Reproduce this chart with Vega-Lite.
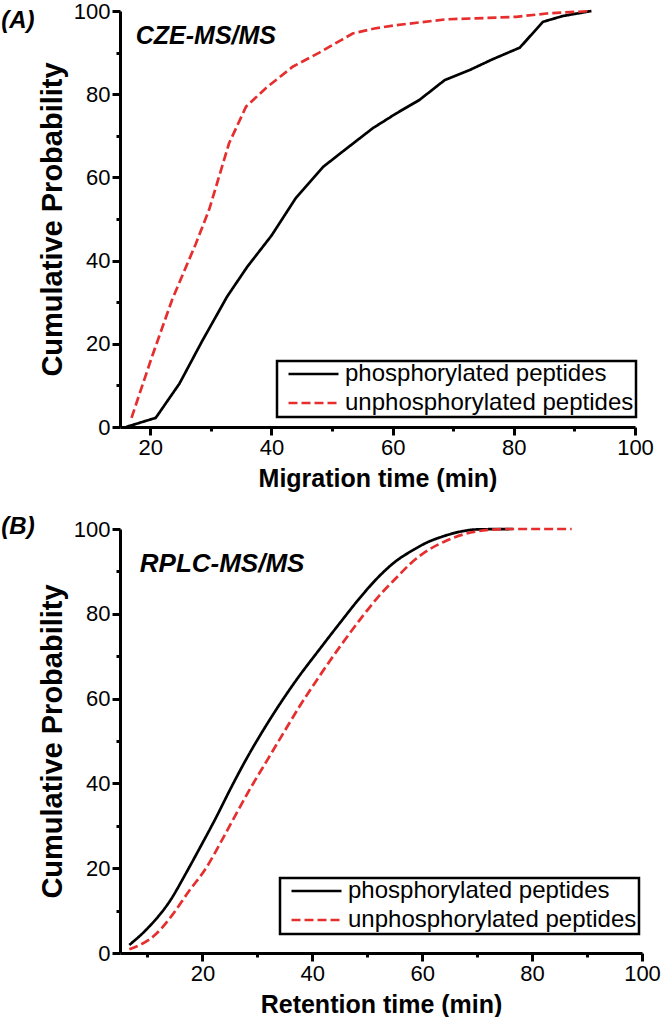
{
  "$schema": "https://vega.github.io/schema/vega-lite/v6.json",
  "padding": {"left": 1, "top": 0, "right": 2, "bottom": 0},
  "background": "white",
  "spacing": 24,
  "config": {
    "view": {"stroke": null},
    "font": "Liberation Sans",
    "axis": {
      "grid": false,
      "domainColor": "black",
      "domainWidth": 3,
      "tickColor": "black",
      "tickWidth": 3,
      "tickSize": {"condition": {"test": "datum.value % 20 === 0", "value": 8}, "value": 4},
      "labelFont": "Liberation Sans",
      "labelFontSize": 22,
      "labelColor": "black",
      "labelPadding": 2,
      "labelOverlap": false,
      "labelFlush": false,
      "labelExpr": "datum.value % 20 === 0 ? datum.label : ''",
      "titleFont": "Liberation Sans",
      "titleFontWeight": "bold",
      "titleColor": "black"
    },
    "axisX": {"titleFontSize": 25, "titlePadding": 8},
    "axisY": {"titleFontSize": 29, "titlePadding": 6},
    "legend": {
      "orient": "none",
      "title": null,
      "symbolType": "stroke",
      "symbolSize": 2500,
      "symbolStrokeWidth": 2.7,
      "labelFont": "Liberation Sans",
      "labelFontSize": 24,
      "labelColor": "black",
      "labelLimit": 500,
      "strokeColor": "black",
      "strokeWidth": 2.5,
      "padding": 2,
      "clipHeight": 22,
      "rowPadding": 5,
      "symbolOffset": 8,
      "labelOffset": 5
    }
  },
  "datasets": {
    "A": [
      {"series": "phosphorylated peptides", "x": 16, "y": 0},
      {"series": "phosphorylated peptides", "x": 20.9, "y": 2.2},
      {"series": "phosphorylated peptides", "x": 24.8, "y": 10.4},
      {"series": "phosphorylated peptides", "x": 28.5, "y": 20.5},
      {"series": "phosphorylated peptides", "x": 32.7, "y": 31.4},
      {"series": "phosphorylated peptides", "x": 36, "y": 38.5},
      {"series": "phosphorylated peptides", "x": 40, "y": 46},
      {"series": "phosphorylated peptides", "x": 44, "y": 55},
      {"series": "phosphorylated peptides", "x": 48.5, "y": 62.5},
      {"series": "phosphorylated peptides", "x": 52, "y": 66.5},
      {"series": "phosphorylated peptides", "x": 56.7, "y": 71.8},
      {"series": "phosphorylated peptides", "x": 60.5, "y": 75.3},
      {"series": "phosphorylated peptides", "x": 64.4, "y": 78.6},
      {"series": "phosphorylated peptides", "x": 68.6, "y": 83.4},
      {"series": "phosphorylated peptides", "x": 72.7, "y": 85.8},
      {"series": "phosphorylated peptides", "x": 76.5, "y": 88.4},
      {"series": "phosphorylated peptides", "x": 81, "y": 91.2},
      {"series": "phosphorylated peptides", "x": 84.8, "y": 97.4},
      {"series": "phosphorylated peptides", "x": 88.1, "y": 98.8},
      {"series": "phosphorylated peptides", "x": 92.8, "y": 100},
      {"series": "unphosphorylated peptides", "x": 16.9, "y": 2.2},
      {"series": "unphosphorylated peptides", "x": 20.3, "y": 17},
      {"series": "unphosphorylated peptides", "x": 23.6, "y": 30.6},
      {"series": "unphosphorylated peptides", "x": 27.5, "y": 44},
      {"series": "unphosphorylated peptides", "x": 29.7, "y": 52.2},
      {"series": "unphosphorylated peptides", "x": 33, "y": 68.2},
      {"series": "unphosphorylated peptides", "x": 35.8, "y": 77},
      {"series": "unphosphorylated peptides", "x": 39.1, "y": 81.5},
      {"series": "unphosphorylated peptides", "x": 43.5, "y": 86.6},
      {"series": "unphosphorylated peptides", "x": 47.9, "y": 90},
      {"series": "unphosphorylated peptides", "x": 51.5, "y": 93},
      {"series": "unphosphorylated peptides", "x": 53.4, "y": 94.6},
      {"series": "unphosphorylated peptides", "x": 57, "y": 95.8},
      {"series": "unphosphorylated peptides", "x": 60.6, "y": 96.6},
      {"series": "unphosphorylated peptides", "x": 68.8, "y": 98},
      {"series": "unphosphorylated peptides", "x": 75, "y": 98.3},
      {"series": "unphosphorylated peptides", "x": 80.4, "y": 98.6},
      {"series": "unphosphorylated peptides", "x": 85.4, "y": 99.4},
      {"series": "unphosphorylated peptides", "x": 92.8, "y": 100}
    ],
    "B": [
      {"series": "phosphorylated peptides", "x": 6.7, "y": 1.9},
      {"series": "phosphorylated peptides", "x": 10, "y": 5.8},
      {"series": "phosphorylated peptides", "x": 14.3, "y": 12.7},
      {"series": "phosphorylated peptides", "x": 17, "y": 18.8},
      {"series": "phosphorylated peptides", "x": 19.7, "y": 25.2},
      {"series": "phosphorylated peptides", "x": 22.5, "y": 32},
      {"series": "phosphorylated peptides", "x": 24.9, "y": 38.2},
      {"series": "phosphorylated peptides", "x": 27.8, "y": 45.3},
      {"series": "phosphorylated peptides", "x": 32, "y": 54.5},
      {"series": "phosphorylated peptides", "x": 37.1, "y": 64.4},
      {"series": "phosphorylated peptides", "x": 41.3, "y": 71.6},
      {"series": "phosphorylated peptides", "x": 45, "y": 77.8},
      {"series": "phosphorylated peptides", "x": 49.2, "y": 84.6},
      {"series": "phosphorylated peptides", "x": 52.2, "y": 88.9},
      {"series": "phosphorylated peptides", "x": 55, "y": 92.2},
      {"series": "phosphorylated peptides", "x": 58.3, "y": 95},
      {"series": "phosphorylated peptides", "x": 61, "y": 96.9},
      {"series": "phosphorylated peptides", "x": 63.2, "y": 98},
      {"series": "phosphorylated peptides", "x": 67.4, "y": 99.5},
      {"series": "phosphorylated peptides", "x": 70, "y": 99.9},
      {"series": "phosphorylated peptides", "x": 76.5, "y": 100},
      {"series": "unphosphorylated peptides", "x": 6.7, "y": 0.9},
      {"series": "unphosphorylated peptides", "x": 11.5, "y": 4.4},
      {"series": "unphosphorylated peptides", "x": 14.6, "y": 9.1},
      {"series": "unphosphorylated peptides", "x": 17.5, "y": 14.5},
      {"series": "unphosphorylated peptides", "x": 20.7, "y": 20.1},
      {"series": "unphosphorylated peptides", "x": 23.5, "y": 26.5},
      {"series": "unphosphorylated peptides", "x": 26.1, "y": 32.7},
      {"series": "unphosphorylated peptides", "x": 28.8, "y": 39},
      {"series": "unphosphorylated peptides", "x": 31.8, "y": 45.5},
      {"series": "unphosphorylated peptides", "x": 34.8, "y": 52},
      {"series": "unphosphorylated peptides", "x": 37.6, "y": 58},
      {"series": "unphosphorylated peptides", "x": 41.3, "y": 65.3},
      {"series": "unphosphorylated peptides", "x": 45, "y": 72.2},
      {"series": "unphosphorylated peptides", "x": 49.2, "y": 79.5},
      {"series": "unphosphorylated peptides", "x": 52, "y": 84},
      {"series": "unphosphorylated peptides", "x": 55.3, "y": 88.5},
      {"series": "unphosphorylated peptides", "x": 58, "y": 92},
      {"series": "unphosphorylated peptides", "x": 61.3, "y": 95.2},
      {"series": "unphosphorylated peptides", "x": 64, "y": 97},
      {"series": "unphosphorylated peptides", "x": 67.4, "y": 98.7},
      {"series": "unphosphorylated peptides", "x": 72.2, "y": 99.8},
      {"series": "unphosphorylated peptides", "x": 76, "y": 100},
      {"series": "unphosphorylated peptides", "x": 87.2, "y": 100}
    ]
  },
  "resolve": {"legend": {"color": "independent", "strokeDash": "independent"}},
  "vconcat": [
    {
      "width": 515,
      "height": 416,
      "layer": [
        {
          "data": {"name": "A"},
          "mark": {"type": "line", "strokeWidth": 2.7},
          "encoding": {
            "x": {"field": "x", "type": "quantitative", "scale": {"domain": [15, 100], "nice": false, "zero": false}, "axis": {"values": [20, 30, 40, 50, 60, 70, 80, 90, 100], "title": "Migration time (min)"}},
            "y": {"field": "y", "type": "quantitative", "scale": {"domain": [0, 100], "nice": false}, "axis": {"values": [0, 10, 20, 30, 40, 50, 60, 70, 80, 90, 100], "title": "Cumulative Probability"}},
            "color": {"field": "series", "type": "nominal", "scale": {"domain": ["phosphorylated peptides", "unphosphorylated peptides"], "range": ["#000000", "#e62e2e"]}, "legend": {"legendX": 157, "legendY": 350}},
            "strokeDash": {"field": "series", "type": "nominal", "scale": {"domain": ["phosphorylated peptides", "unphosphorylated peptides"], "range": [[1, 0], [9, 4]]}, "legend": {"legendX": 157, "legendY": 350}}
          }
        },
        {
          "data": {"values": [{"label": "CZE-MS/MS"}]},
          "mark": {"type": "text", "align": "left", "baseline": "alphabetic", "fontSize": 25, "fontWeight": "bold", "fontStyle": "italic", "font": "Liberation Sans", "color": "black"},
          "encoding": {"x": {"datum": 17.6}, "y": {"datum": 92}, "text": {"field": "label"}}
        },
        {
          "data": {"values": [{"label": "(A)"}]},
          "mark": {"type": "text", "align": "left", "baseline": "alphabetic", "fontSize": 24, "fontWeight": "bold", "fontStyle": "italic", "font": "Liberation Sans", "color": "black"},
          "encoding": {"x": {"datum": -4.6}, "y": {"datum": 96}, "text": {"field": "label"}}
        }
      ]
    },
    {
      "width": 522,
      "height": 424,
      "layer": [
        {
          "data": {"name": "B"},
          "mark": {"type": "line", "strokeWidth": 2.7, "interpolate": "monotone"},
          "encoding": {
            "x": {"field": "x", "type": "quantitative", "scale": {"domain": [5, 100], "nice": false, "zero": false}, "axis": {"values": [10, 20, 30, 40, 50, 60, 70, 80, 90, 100], "title": "Retention time (min)"}},
            "y": {"field": "y", "type": "quantitative", "scale": {"domain": [0, 100], "nice": false}, "axis": {"values": [0, 10, 20, 30, 40, 50, 60, 70, 80, 90, 100], "title": "Cumulative Probability"}},
            "color": {"field": "series", "type": "nominal", "scale": {"domain": ["phosphorylated peptides", "unphosphorylated peptides"], "range": ["#000000", "#e62e2e"]}, "legend": {"legendX": 160, "legendY": 349}},
            "strokeDash": {"field": "series", "type": "nominal", "scale": {"domain": ["phosphorylated peptides", "unphosphorylated peptides"], "range": [[1, 0], [9, 4]]}, "legend": {"legendX": 160, "legendY": 349}}
          }
        },
        {
          "data": {"values": [{"label": "RPLC-MS/MS"}]},
          "mark": {"type": "text", "align": "left", "baseline": "alphabetic", "fontSize": 26, "fontWeight": "bold", "fontStyle": "italic", "font": "Liberation Sans", "color": "black"},
          "encoding": {"x": {"datum": 8.6}, "y": {"datum": 89.9}, "text": {"field": "label"}}
        },
        {
          "data": {"values": [{"label": "(B)"}]},
          "mark": {"type": "text", "align": "left", "baseline": "alphabetic", "fontSize": 24, "fontWeight": "bold", "fontStyle": "italic", "font": "Liberation Sans", "color": "black"},
          "encoding": {"x": {"datum": -16.6}, "y": {"datum": 98.8}, "text": {"field": "label"}}
        }
      ]
    }
  ]
}
